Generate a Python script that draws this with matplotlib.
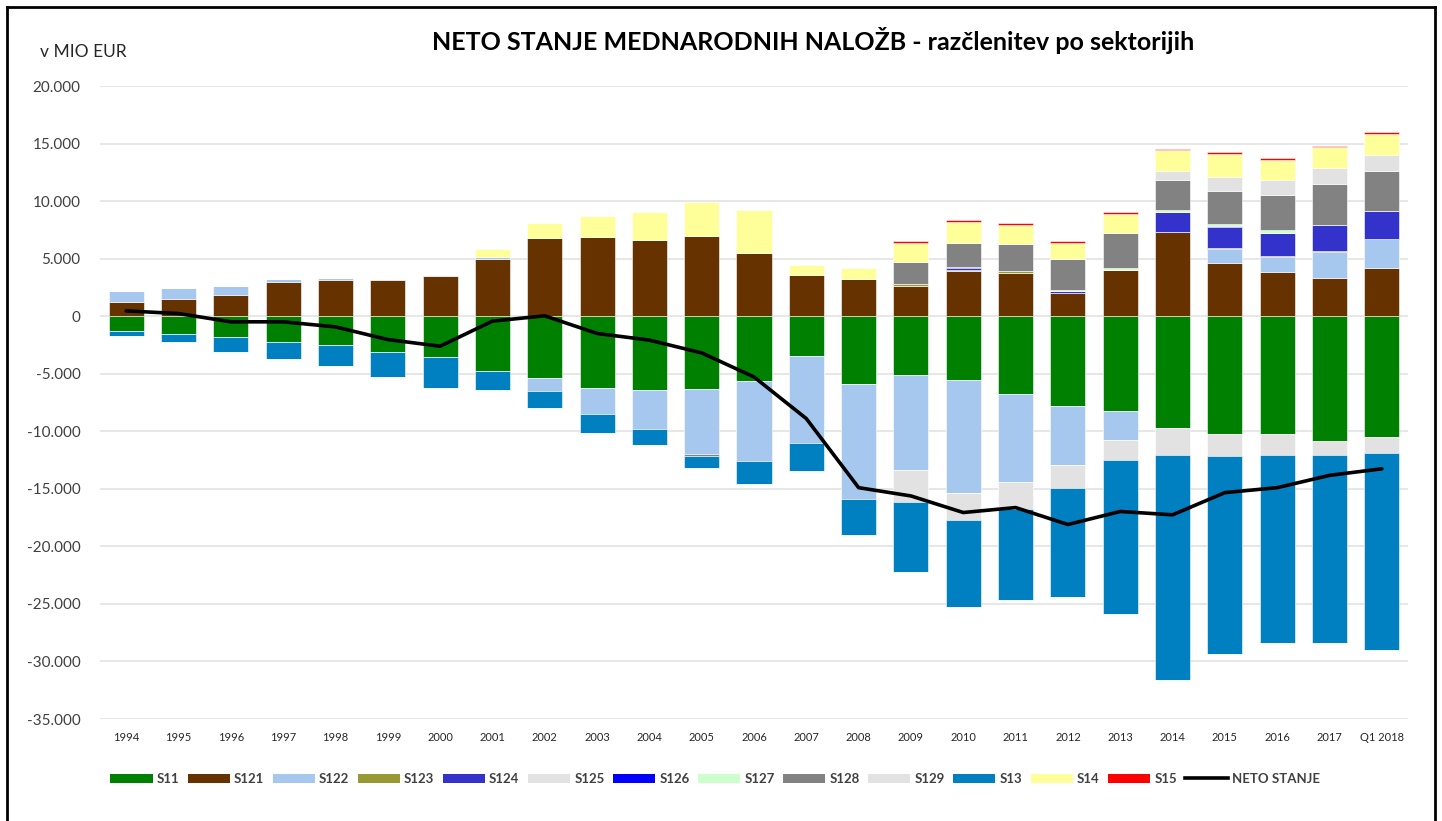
import numpy as np
import matplotlib.pyplot as plt
from matplotlib.patches import Patch
from matplotlib.lines import Line2D

# Podatki (v MIO EUR), odčitani s slike
leta = ['1994', '1995', '1996', '1997', '1998', '1999', '2000', '2001', '2002',
        '2003', '2004', '2005', '2006', '2007', '2008', '2009', '2010', '2011',
        '2012', '2013', '2014', '2015', '2016', '2017', 'Q1 2018']

s11 = [-1250, -1590, -1830, -2200, -2520, -3130, -3590, -4760, -5330, -6250,
       -6400, -6320, -5600, -3480, -5910, -5100, -5560, -6740, -7780, -8240,
       -9680, -10260, -10260, -10840, -10460]
s121 = [1220, 1450, 1800, 2990, 3130, 3130, 3450, 4990, 6750, 6870, 6640, 6990,
        5450, 3570, 3220, 2650, 3920, 3780, 2010, 4010, 7350, 4620, 3810, 3310, 4160]
s122 = [950, 960, 840, 230, 230, 100, 100, 120, -1180, -2250, -3370, -5680,
        -6980, -7560, -10000, -8240, -9800, -7670, -5190, -2540, 0, 1220, 1310,
        2270, 2560]
s123 = [0, 0, 0, 0, 0, 0, 0, 0, 0, 0, 0, 0, 0, 0, 0, 170, 120, 140, 0, 0, 0,
        120, 110, 120, 0]
s124 = [0, 0, 0, 0, 0, 0, 0, 0, 0, 0, 0, 0, 0, 0, 0, 0, 150, 0, 170, 0, 1690,
        1800, 2010, 2240, 2380]
s125 = [0] * 25
s126 = [0, 0, 0, 0, 0, 0, 0, 0, 0, 0, 0, 0, 0, 0, 0, 0, 60, 0, 0, 0, 0, 80, 0,
        0, 0]
s127 = [0, 0, 0, 0, 0, 0, 0, 0, 0, 0, 0, 0, 0, 0, 0, 0, 0, 40, 60, 150, 150,
        180, 230, 0, 60]
s128 = [0, 0, 0, 0, 0, 0, 0, 0, 0, 0, 0, -150, 0, 0, 0, 1890, 2120, 2330, 2730,
        3050, 2640, 2850, 3050, 3540, 3430]
s129 = [0, 0, 0, 0, 0, 0, 0, 0, 0, 0, 0, 0, 0, 0, 0, -2800, -2390, -2310, -1990,
        -1730, -2340, -1900, -1760, -1260, -1410]
s129_poz = [0, 0, 0, 0, 0, 0, 0, 0, 0, 0, 0, 0, 0, 0, 0, 0, 0, 0, 0, 0, 820,
            1190, 1310, 1400, 1420]
s13 = [-460, -610, -1300, -1510, -1770, -2120, -2610, -1640, -1500, -1650,
       -1410, -1010, -1970, -2440, -3140, -6050, -7530, -7950, -9480, -13340,
       -19600, -17210, -16400, -16320, -17120]
s14 = [0, 0, 0, 0, 0, 0, 0, 720, 1340, 1800, 2380, 2950, 3800, 840, 950, 1660,
       1830, 1660, 1400, 1710, 1770, 2010, 1770, 1800, 1810]
s15 = [0, 0, 0, 0, 0, 0, 0, 0, 0, 0, 0, 0, 0, 0, 0, 140, 140, 170, 140, 120,
       140, 170, 150, 150, 140]
neto = [460, 230, -490, -490, -930, -2030, -2610, -430, 30, -1500, -2080,
        -3190, -5280, -8900, -14900, -15620, -17060, -16630, -18100, -16970,
        -17260, -15330, -14900, -13830, -13260]

sektorji = ['S11', 'S121', 'S122', 'S123', 'S124', 'S125', 'S126', 'S127',
            'S128', 'S129', 'S13', 'S14', 'S15']
barve = ['#008000', '#663300', '#A6C8EE', '#999933', '#3333CC', '#E2E2E2',
         '#0000FF', '#CCFFCC', '#828282', '#E2E2E2', '#0080C0', '#FFFF99',
         '#FF0000']

plt.rcParams['font.family'] = ['Lato', 'DejaVu Sans']

fig = plt.figure(figsize=(14.42, 8.21), dpi=100)
ax = fig.add_axes([100 / 1442, 1 - 719 / 821, 1308 / 1442, 633 / 821])

x = np.arange(len(leta))
sirina = 0.67
poz_dno = np.zeros(len(leta))
neg_dno = np.zeros(len(leta))

vrednosti = [s11, s121, s122, s123, s124, s125, s126, s127, s128, None, s13,
             s14, s15]
for ime, vr, barva in zip(sektorji, vrednosti, barve):
    if ime == 'S129':
        # S129 ima v istem letu pozitivni in negativni del
        neg = np.array(s129, dtype=float)
        poz = np.array(s129_poz, dtype=float)
    else:
        v = np.array(vr, dtype=float)
        poz = np.where(v > 0, v, 0)
        neg = np.where(v < 0, v, 0)
    ax.bar(x, poz, sirina, bottom=poz_dno, color=barva, edgecolor='white',
           linewidth=0.4, zorder=2)
    ax.bar(x, neg, sirina, bottom=neg_dno, color=barva, edgecolor='white',
           linewidth=0.4, zorder=2)
    poz_dno += poz
    neg_dno += neg

ax.plot(x, neto, color='black', linewidth=2.6, zorder=3,
        solid_joinstyle='round', solid_capstyle='round')

ax.set_xlim(-0.5, len(leta) - 0.5)
ax.set_ylim(-35000, 20000)
ax.set_yticks(np.arange(-35000, 20001, 5000))
ax.set_yticklabels([f'{v:,}'.replace(',', '.') for v in range(-35000, 20001, 5000)])
ax.set_xticks(x)
ax.set_xticklabels(leta)
ax.tick_params(axis='x', length=0, labelsize=8, colors='#262626', pad=9)
ax.tick_params(axis='y', length=0, labelsize=11, colors='#404040', pad=14)
ax.yaxis.grid(True, color='#E3E3E3', linewidth=1.2, zorder=0)
ax.set_axisbelow(True)
for sp in ax.spines.values():
    sp.set_visible(False)

fig.text(813 / 1442, 1 - 40 / 821,
         'NETO STANJE MEDNARODNIH NALOŽB - razčlenitev po sektorijih',
         ha='center', va='center', fontsize=18, fontweight='bold', color='black')
fig.text(40 / 1442, 1 - 52 / 821, 'v MIO EUR', ha='left', va='center',
         fontsize=12.5, color='#262626')

rocaji = [Patch(facecolor=b, label=s) for s, b in zip(sektorji, barve)]
rocaji.append(Line2D([0], [0], color='black', linewidth=2.6, label='NETO STANJE'))
leg = fig.legend(handles=rocaji, loc='center', ncol=14,
                 bbox_to_anchor=(715 / 1442, 1 - 779 / 821), frameon=False,
                 handlelength=3.2, handleheight=0.75, handletextpad=0.3,
                 columnspacing=0.65, prop={'weight': 'bold', 'size': 9.5})
for t in leg.get_texts():
    t.set_color('#404040')

# okvir
okvir = dict(color='black', linewidth=2, transform=fig.transFigure)
fig.add_artist(Line2D([7 / 1442, 1435 / 1442], [1 - 7 / 821, 1 - 7 / 821], **okvir))
fig.add_artist(Line2D([7 / 1442, 7 / 1442], [0, 1 - 7 / 821], **okvir))
fig.add_artist(Line2D([1435 / 1442, 1435 / 1442], [0, 1 - 7 / 821], **okvir))

fig.savefig('out.png', dpi=100)
